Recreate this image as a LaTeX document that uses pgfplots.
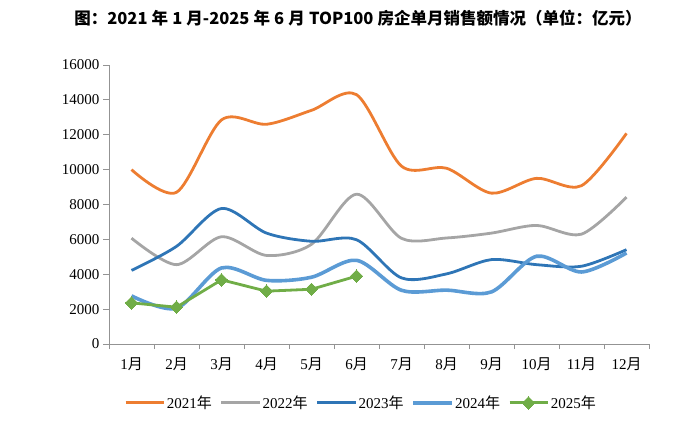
\documentclass[border=0pt]{standalone}
\usepackage{fontspec}
\setmainfont{Liberation Serif}
\newfontfamily\cjk{Noto Sans CJK SC}
\usepackage{pgfplots}
\pgfplotsset{compat=1.18}

\newcommand{\yue}{{\cjk 月}}
\newcommand{\nian}{{\cjk 年}}

\definecolor{c21}{HTML}{ED7D31}
\definecolor{c22}{HTML}{A5A5A5}
\definecolor{c23}{HTML}{2E75B6}
\definecolor{c24}{HTML}{5B9BD5}
\definecolor{c25}{HTML}{70AD47}

\begin{document}
\begin{tikzpicture}
\path[use as bounding box] (0pt,0pt) rectangle (700pt,421pt);

\begin{axis}[
    at={(109pt,77pt)},
    anchor=south west,
    scale only axis,
    width=540pt,
    height=279pt,
    xmin=0.5, xmax=12.5,
    ymin=0, ymax=16000,
    axis x line*=bottom,
    axis y line*=left,
    axis line style={draw=gray!85, line width=0.9pt},
    xtick={1,...,12},
    xticklabels={1\yue,2\yue,3\yue,4\yue,5\yue,6\yue,7\yue,8\yue,9\yue,10\yue,11\yue,12\yue},
    minor xtick={0.5,1.5,...,12.5},
    major x tick style={draw=none},
    minor x tick style={draw=gray!85, line width=0.9pt},
    minor tick length=5pt,
    ytick={0,2000,...,16000},
    major y tick style={draw=gray!85, line width=0.9pt},
    major tick length=6pt,
    tick align=outside,
    scaled y ticks=false,
    yticklabel style={/pgf/number format/.cd, fixed, 1000 sep={}},
    /pgf/number format/assume math mode=true,
    ticklabel style={font=\rmfamily\fontsize{15}{17}\selectfont},
    xticklabel style={yshift=-4pt},
    legend style={at={(0.4667,-0.211)}, anchor=center, draw=none,
        legend columns=-1, font=\rmfamily\fontsize{15}{17}\selectfont,
        /tikz/every even column/.append style={column sep=6pt}},
    legend image code/.code={
        \draw[mark repeat=2, mark phase=2, #1] plot coordinates {(0pt,0pt) (19pt,0pt) (38pt,0pt)};
    },
    every axis plot/.append style={line width=2.8pt},
]

% 2021
\addplot[c21, smooth, tension=0.5, no marks] coordinates {
(1,10000) (2,8700) (3,12850) (4,12600) (5,13400) (6,14300)
(7,10200) (8,10080) (9,8650) (10,9500) (11,9080) (12,12080)};
% 2022
\addplot[c22, smooth, tension=0.5, no marks] coordinates {
(1,6070) (2,4550) (3,6150) (4,5080) (5,5720) (6,8590)
(7,6060) (8,6080) (9,6360) (10,6800) (11,6300) (12,8420)};
% 2023
\addplot[c23, smooth, tension=0.5, no marks] coordinates {
(1,4220) (2,5600) (3,7770) (4,6360) (5,5890) (6,5980)
(7,3790) (8,4020) (9,4840) (10,4550) (11,4460) (12,5410)};
% 2024
\addplot[c24, smooth, tension=0.5, no marks, line width=3.6pt] coordinates {
(1,2760) (2,2050) (3,4360) (4,3650) (5,3830) (6,4800)
(7,3080) (8,3090) (9,2990) (10,5030) (11,4130) (12,5220)};
% 2025
\addplot[c25, mark=square*, mark size=4.4pt, mark options={rotate=45, solid, line width=0pt}] coordinates {
(1,2360) (2,2110) (3,3680) (4,3030) (5,3140) (6,3890)};

\legend{2021\nian,2022\nian,2023\nian,2024\nian,2025\nian}
\end{axis}

\node[font={\cjk\bfseries\fontsize{16.5}{19}\selectfont}] at (358pt,403pt)
    {\spaceskip=0.25em 图：2021 年 1 月-2025 年 6 月 TOP100 房企单月销售额情况（单位：亿元）};
\end{tikzpicture}
\end{document}
